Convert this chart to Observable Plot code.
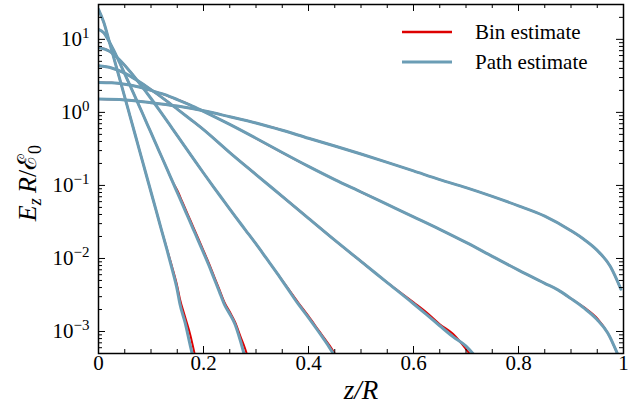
<!DOCTYPE html>
<html><head><meta charset="utf-8">
<script src="https://cdn.jsdelivr.net/npm/d3@7"></script>
<script src="https://cdn.jsdelivr.net/npm/@observablehq/plot@0.6"></script>
<style>body{margin:0;background:#fff} svg{display:block}</style>
</head><body><div id="chart"></div>
<script>
// ---- data ----
const aX = [0,0.01,0.02,0.03,0.04,0.05,0.06,0.07,0.08,0.09,0.1,0.11,0.12,0.13,0.14,0.15,0.155,0.165,0.175,0.185];
const aPath = [25.7,17.1,9.62,5.32,2.94,1.62,0.891,0.49,0.269,0.148,0.0813,0.0447,0.0245,0.0135,0.00724,0.00372,0.0024,0.00132,0.000631,0.000316];
const aBin  = [25.7,17.1,9.62,5.32,2.94,1.62,0.891,0.49,0.269,0.148,0.0813,0.0447,0.0245,0.0138,0.00776,0.00417,0.00282,0.00158,0.000891,0.000427];

const bX = [0,0.01,0.02,0.03,0.04,0.05,0.06,0.07,0.08,0.09,0.1,0.11,0.12,0.13,0.14,0.15,0.16,0.17,0.18,0.19,0.2,0.21,0.22,0.23,0.24,0.25,0.26,0.27,0.28,0.29];
const bPath = [13.7,12.3,9.44,6.85,4.84,3.38,2.34,1.62,1.12,0.767,0.527,0.361,0.249,0.171,0.117,0.0802,0.055,0.0376,0.0257,0.0176,0.012,0.00813,0.00537,0.00355,0.00234,0.00174,0.00126,0.000759,0.000417,0.000229];
const bBin  = [13.7,12.3,9.44,6.85,4.84,3.38,2.34,1.62,1.12,0.767,0.527,0.361,0.249,0.171,0.117,0.0858,0.0589,0.0402,0.0275,0.0188,0.0128,0.0087,0.00575,0.0038,0.0025,0.00186,0.00135,0.000871,0.000562,0.000316];

const cX = [0,0.02,0.04,0.06,0.08,0.1,0.12,0.14,0.16,0.18,0.2,0.22,0.24,0.26,0.28,0.3,0.32,0.34,0.36,0.38,0.4,0.42,0.44,0.46];
const cPath = [7.71,6.92,5.25,3.63,2.40,1.55,0.977,0.61,0.38,0.237,0.148,0.0933,0.0596,0.038,0.0245,0.0158,0.01,0.00631,0.00389,0.0024,0.00155,0.000977,0.000603,0.000355];
const cBin  = [7.71,6.92,5.25,3.63,2.40,1.55,0.977,0.61,0.38,0.237,0.148,0.0933,0.0596,0.038,0.0245,0.0158,0.01,0.00631,0.00398,0.00251,0.00162,0.00102,0.000646,0.00038];

const dX = [0,0.025,0.05,0.075,0.1,0.125,0.15,0.175,0.2,0.25,0.3,0.35,0.4,0.45,0.5,0.55,0.6,0.625,0.65,0.675,0.7,0.72];
const dPath = [4.34,4.06,3.44,2.70,2.05,1.52,1.11,0.807,0.582,0.282,0.141,0.0708,0.0355,0.0178,0.00912,0.00468,0.0024,0.0017,0.0012,0.000851,0.000631,0.000437];
const dBin  = [4.34,4.06,3.44,2.70,2.05,1.52,1.11,0.807,0.582,0.282,0.141,0.0708,0.0355,0.0178,0.00912,0.00468,0.00251,0.00182,0.00126,0.000933,0.000575,0.000363];

const eX = [0,0.025,0.05,0.075,0.1,0.125,0.15,0.175,0.2,0.25,0.3,0.35,0.4,0.45,0.5,0.55,0.6,0.65,0.7,0.75,0.8,0.85,0.875,0.9,0.925,0.95,0.97,0.99];
const ePath = [2.57,2.54,2.43,2.24,2.0,1.76,1.50,1.26,1.035,0.684,0.442,0.282,0.182,0.12,0.0813,0.055,0.0372,0.0251,0.0166,0.0107,0.00692,0.00457,0.00372,0.00282,0.00209,0.00145,0.000955,0.000468];
const eBin  = [2.57,2.54,2.43,2.24,2.0,1.76,1.50,1.26,1.035,0.684,0.442,0.282,0.182,0.12,0.0813,0.055,0.0372,0.0251,0.0166,0.0107,0.00692,0.00457,0.00372,0.00282,0.00214,0.00151,0.000955,0.000468];

const fX = [0,0.05,0.1,0.15,0.2,0.25,0.3,0.35,0.4,0.45,0.5,0.55,0.6,0.65,0.7,0.75,0.8,0.85,0.9,0.925,0.95,0.975,0.995];
const fPath = [1.52,1.48,1.36,1.22,1.05,0.871,0.716,0.569,0.442,0.347,0.269,0.207,0.158,0.12,0.0933,0.0708,0.0525,0.038,0.024,0.0182,0.0129,0.00776,0.0038];
const fBin  = [1.52,1.48,1.36,1.22,1.05,0.871,0.716,0.569,0.442,0.347,0.269,0.207,0.158,0.12,0.0933,0.0708,0.0525,0.038,0.024,0.0182,0.0129,0.00776,0.0038];

const seriesNames = ["Bin estimate", "Path estimate"];
const seriesColors = ["#dd0000", "#6b9db5"];

const xTicks = [0, 0.2, 0.4, 0.6, 0.8, 1];
const xTickLabels = ["0", "0.2", "0.4", "0.6", "0.8", "1"];
const xMinorTicks = [0.05,0.1,0.15,0.25,0.3,0.35,0.45,0.5,0.55,0.65,0.7,0.75,0.85,0.9,0.95];
const yTicks = [1e-3, 1e-2, 1e-1, 1, 10];
const yTickBases = ["10", "10", "10", "10", "10"];
const yTickExps = ["\u22123", "\u22122", "\u22121", "0", "1"];
const yMinorTicks = [5e-4,6e-4,7e-4,8e-4,9e-4,2e-3,3e-3,4e-3,5e-3,6e-3,7e-3,8e-3,9e-3,
  0.02,0.03,0.04,0.05,0.06,0.07,0.08,0.09,0.2,0.3,0.4,0.5,0.6,0.7,0.8,0.9,2,3,4,5,6,7,8,9,20,30];

// ---- build tables ----
const curves = [
  ["A", aX, aPath, aBin], ["B", bX, bPath, bBin], ["C", cX, cPath, cBin],
  ["D", dX, dPath, dBin], ["E", eX, ePath, eBin], ["F", fX, fPath, fBin]
];
const pathRows = [], binRows = [];
for (const [name, xs, p, b] of curves) {
  xs.forEach((x, i) => {
    pathRows.push({curve: name, x, y: p[i]});
    binRows.push({curve: name, x, y: b[i]});
  });
}

const W = 643, H = 417, mL = 98, mR = 20, mT = 4, mB = 64;
const iw = W - mL - mR, ih = H - mT - mB;
const font = "'Liberation Serif', 'DejaVu Serif', serif";

const chart = Plot.plot({
  width: W, height: H,
  marginLeft: mL, marginRight: mR, marginTop: mT, marginBottom: mB,
  x: {domain: [0, 1], axis: null},
  y: {type: "log", domain: [5e-4, 30], axis: null},
  style: {fontFamily: font, background: "white", color: "black", overflow: "visible"},
  marks: [
    Plot.line(binRows, {x: "x", y: "y", z: "curve", stroke: seriesColors[0], strokeWidth: 2, curve: "monotone-x", clip: true}),
    Plot.line(pathRows, {x: "x", y: "y", z: "curve", stroke: seriesColors[1], strokeWidth: 3, curve: "monotone-x", clip: true}),
    Plot.ruleX(xTicks, {x: d => d, insetTop: ih - 7, stroke: "black"}),
    Plot.ruleX(xTicks, {x: d => d, insetBottom: ih - 7, stroke: "black"}),
    Plot.ruleX(xMinorTicks, {x: d => d, insetTop: ih - 4, stroke: "black"}),
    Plot.ruleX(xMinorTicks, {x: d => d, insetBottom: ih - 4, stroke: "black"}),
    Plot.ruleY(yTicks, {y: d => d, insetRight: iw - 7, stroke: "black"}),
    Plot.ruleY(yTicks, {y: d => d, insetLeft: iw - 7, stroke: "black"}),
    Plot.ruleY(yMinorTicks, {y: d => d, insetRight: iw - 4, stroke: "black"}),
    Plot.ruleY(yMinorTicks, {y: d => d, insetLeft: iw - 4, stroke: "black"}),
    Plot.frame({stroke: "black", strokeWidth: 1.5}),
    Plot.text(xTicks, {x: d => d, text: (d, i) => xTickLabels[i], frameAnchor: "bottom", dy: 16, fontSize: 21}),
    Plot.text(yTicks, {y: d => d, text: (d, i) => yTickBases[i], frameAnchor: "left", textAnchor: "end",
      dx: (yTickExps[0].length * 0) - 9, fontSize: 21, className: "ytl"}),
    Plot.text(["z/R"], {frameAnchor: "bottom", dy: 45, fontSize: 27, fontStyle: "italic"})
  ]
});
document.getElementById("chart").appendChild(chart);

// ---- y tick exponents as superscript tspans ----
const svg = d3.select(chart);
svg.selectAll(".ytl text").each(function(d, i) {
  const t = d3.select(this);
  const base = t.text();
  t.text(base);
  t.append("tspan").attr("font-size", 15).attr("dy", -8).text(yTickExps[i]);
});

// ---- y label and legend ----
const yl = svg.append("text")
  .attr("transform", "translate(36,183) rotate(-90)")
  .attr("text-anchor", "middle")
  .style("font-family", font)
  .attr("font-size", 26)
  .attr("fill", "black");
yl.append("tspan").attr("font-style", "italic").text("E");
yl.append("tspan").attr("font-style", "italic").attr("font-size", 18).attr("dy", 5).text("z");
yl.append("tspan").attr("dy", -5).text("\u2009");
yl.append("tspan").attr("font-style", "italic").text("R");
yl.append("tspan").text("/");
yl.append("tspan").text("\u2130");
yl.append("tspan").attr("font-size", 18).attr("dy", 5).text("0");

const lg = svg.append("g").style("font-family", font).attr("font-size", 21).attr("text-anchor", "start");
seriesNames.forEach((name, i) => {
  const yy = 32 + 30 * i;
  lg.append("line").attr("x1", 402).attr("x2", 452).attr("y1", yy).attr("y2", yy)
    .attr("stroke", seriesColors[i]).attr("stroke-width", i === 0 ? 2.5 : 3);
  lg.append("text").attr("x", 475).attr("y", yy + 7).attr("fill", "black")
    .style("font-family", font).attr("text-anchor", "start").text(name);
});
</script>
</body></html>
